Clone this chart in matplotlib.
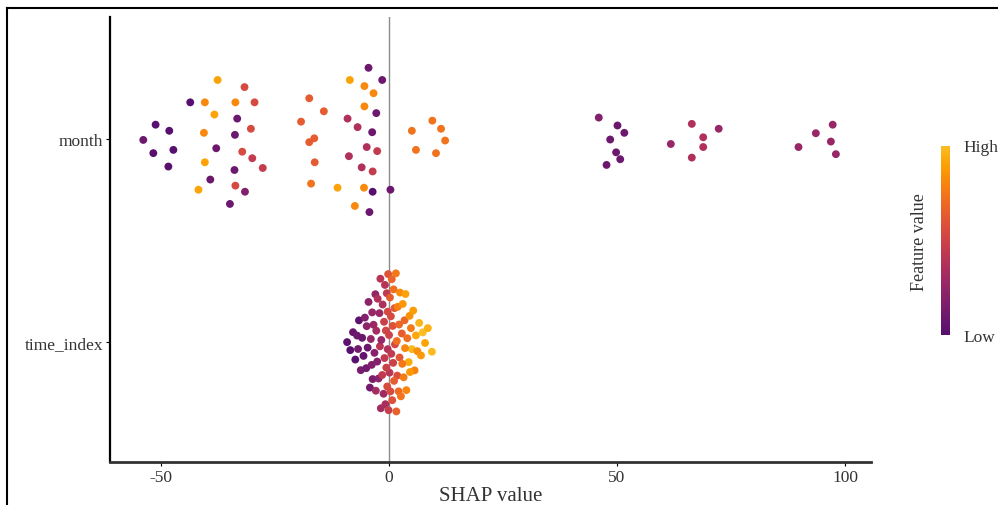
import numpy as np
import matplotlib.pyplot as plt
from matplotlib.colors import ListedColormap, Normalize
from matplotlib.lines import Line2D

# features on the y axis (bottom to top)
features = ['time_index', 'month']

# month: SHAP value, vertical jitter, feature value (month number)
month_shap = [-37.6, -31.7, -43.6, -40.4, -33.7, -29.5, -38.3, -33.3, -30.3, -51.2,
              -48.2, -40.6, -33.8, -53.9, -37.9, -47.3, -51.7, -32.2, -30.0, -40.4,
              -27.7, -33.9, -48.4, -39.2, -33.7, -41.8, -31.6, -34.9,
              -4.5, -1.5, -8.6, -5.4, -3.4, -17.5, -14.3, -5.4, -2.8, -9.1,
              -19.3, -6.9, -3.7, -16.4, -17.5, -4.9, -2.6, -8.8, -16.3, -6.0,
              -3.6, -17.1, -11.3, -5.5, -3.6, 0.3, -7.5, -4.3,
              9.5, 11.4, 5.0, 12.3, 5.9, 10.3,
              46.0, 50.1, 51.6, 48.5, 49.8, 50.7, 47.7,
              66.4, 72.3, 68.9, 61.8, 68.9, 66.4,
              97.3, 93.6, 96.9, 89.8, 98.0]
month_jitter = [0.29, 0.255, 0.18, 0.18, 0.18, 0.18, 0.12, 0.10, 0.05, 0.07,
                0.04, 0.03, 0.02, -0.005, -0.046, -0.054, -0.07, -0.063, -0.095, -0.115,
                -0.143, -0.153, -0.136, -0.20, -0.23, -0.25, -0.26, -0.32,
                0.35, 0.29, 0.29, 0.26, 0.225, 0.20, 0.136, 0.16, 0.127, 0.10,
                0.085, 0.058, 0.033, 0.003, -0.016, -0.04, -0.06, -0.085, -0.115, -0.14,
                -0.16, -0.22, -0.24, -0.24, -0.26, -0.25, -0.33, -0.36,
                0.09, 0.05, 0.04, -0.008, -0.054, -0.07,
                0.105, 0.066, 0.03, -0.003, -0.066, -0.10, -0.128,
                0.074, 0.05, 0.008, -0.025, -0.04, -0.092,
                0.07, 0.028, -0.013, -0.04, -0.075]
month_value = [11, 7, 1, 10, 10, 7, 11, 2, 7, 1,
               1, 10, 2, 2, 2, 1, 1, 7, 6, 11,
               6, 2, 1, 2, 7, 11, 3, 2,
               2, 2, 11, 10, 10, 8, 8, 10, 2, 5,
               8, 5, 2, 8, 8, 5, 6, 5, 8, 5,
               6, 9, 11, 10, 1, 2, 10, 2,
               9, 9, 9, 9, 9, 9,
               3, 2, 2, 2, 2, 2, 2,
               5, 4, 5, 4, 5, 5,
               4, 4, 4, 4, 4]

# time_index: SHAP value and feature value (rank of the time index)
time_shap = [-9.2, -8.5, -7.9, -7.4, -7.0, -6.6, -6.2, -5.9, -5.6, -5.3,
             -5.0, -4.7, -4.5, -4.2, -4.0, -3.8, -3.6, -3.4, -3.2, -3.0,
             -2.8, -2.6, -2.5, -2.3, -2.1, -2.0, -1.8, -1.7, -1.5, -1.4,
             -1.2, -1.1, -0.9, -0.8, -0.7, -0.5, -0.4, -0.3, -0.2, -0.1,
             0.0, 0.1, 0.2, 0.4, 0.5, 0.6, 0.8, 0.9, 1.0, 1.2,
             1.3, 1.5, 1.6, 1.8, 1.9, 2.1, 2.3, 2.4, 2.6, 2.8,
             3.0, 3.2, 3.4, 3.6, 3.8, 4.0, 4.3, 4.5, 4.8, 5.0,
             5.3, 5.6, 5.9, 6.2, 6.6, 7.0, 7.4, 7.9, 8.5, 9.4,
             -6.8, -4.9, -3.7, -2.9, -1.9, -1.0, -0.6, -0.3,
             0.3, 0.7, 1.1, 1.7, 2.2, 2.9, 3.5, 4.6]
time_value = [3, 1, 6, 2, 9, 4, 12, 7, 5, 15,
              10, 8, 18, 11, 21, 14, 13, 24, 17, 20,
              27, 16, 30, 19, 23, 33, 26, 22, 36, 29,
              25, 39, 32, 28, 42, 35, 45, 31, 48, 38,
              41, 34, 51, 44, 37, 54, 47, 40, 57, 50,
              43, 60, 53, 46, 63, 56, 49, 66, 59, 52,
              69, 62, 55, 72, 65, 58, 75, 68, 61, 78,
              71, 64, 74, 67, 77, 70, 80, 73, 76, 79,
              10, 19, 22, 26, 33, 37, 40, 43,
              44, 47, 52, 57, 55, 60, 65, 70]

x_ticks = [-50, 0, 50, 100]


def vanDerCorput(n, base=2):
    out = []
    for i in range(1, n + 1):
        q, denom, v = i, 1, 0.0
        while q:
            denom *= base
            q, r = divmod(q, base)
            v += r / denom
        out.append(v)
    return np.array(out)


def quasirandom(x, width=0.37, bw=2.2):
    # offsets like ggbeeswarm's quasirandom: van der Corput scaled by density
    x = np.asarray(x, dtype=float)
    dens = np.exp(-0.5 * ((x[:, None] - x[None, :]) / bw) ** 2).sum(1)
    dens = dens / dens.max()
    order = np.argsort(x)
    vdc = vanDerCorput(len(x)) * 2 - 1
    off = np.empty(len(x))
    off[order] = vdc * width * dens[order]
    return off


plt.rcParams['font.family'] = ['Liberation Serif', 'DejaVu Serif']
plt.rcParams['axes.unicode_minus'] = False

cmap = ListedColormap(plt.cm.inferno(np.linspace(0.25, 0.85, 256)))

fig = plt.figure(figsize=(9.98, 5.06), dpi=100)
ax = fig.add_axes([110 / 998, 1 - 463 / 506, 761 / 998, 445 / 506])

ax.axvline(0, color='#8c8c8c', lw=1.0, zorder=1)

yTime = features.index('time_index') + 1
yMonth = features.index('month') + 1

ax.scatter(time_shap, yTime + quasirandom(time_shap), c=time_value,
           cmap=cmap, norm=Normalize(min(time_value), max(time_value)),
           s=32, linewidths=0, zorder=3)
ax.scatter(month_shap, yMonth + np.array(month_jitter), c=month_value,
           cmap=cmap, norm=Normalize(1, 12), s=32, linewidths=0, zorder=3)

ax.set_xlim(-61.2, 105.7)
ax.set_ylim(0.41, 2.60)
ax.set_xticks(x_ticks)
ax.set_yticks([1, 2])
ax.set_yticklabels(features)
ax.tick_params(labelsize=12.5, colors='#333333', length=3, width=0.8, pad=2)
ax.tick_params(axis='both', color='black')
ax.set_xlabel('SHAP value', fontsize=15, color='#333333', labelpad=1)
for side in ['top', 'right']:
    ax.spines[side].set_visible(False)
ax.spines['left'].set_linewidth(1.6)
ax.spines['bottom'].set_linewidth(2.0)
ax.spines['bottom'].set_color('#333333')

# colour bar
cax = fig.add_axes([941 / 998, 1 - 336 / 506, 9 / 998, 189 / 506])
cax.imshow(np.linspace(1, 0, 256)[:, None], aspect='auto', cmap=cmap)
cax.axis('off')
fig.text(963 / 998, 1 - 148 / 506, 'High', fontsize=12.5, color='#333333', va='center', ha='left')
fig.text(963 / 998, 1 - 338 / 506, 'Low', fontsize=12.5, color='#333333', va='center', ha='left')
fig.text(920 / 998, 1 - 242 / 506, 'Feature value', fontsize=13, color='#333333',
         rotation=90, va='center', ha='center')

# page frame around the figure
fig.add_artist(Line2D([7 / 998, 7 / 998], [0, 1 - 9 / 506], color='black', lw=1.5))
fig.add_artist(Line2D([7 / 998, 1], [1 - 9 / 506, 1 - 9 / 506], color='black', lw=1.5))

fig.savefig('out.png', dpi=100)
